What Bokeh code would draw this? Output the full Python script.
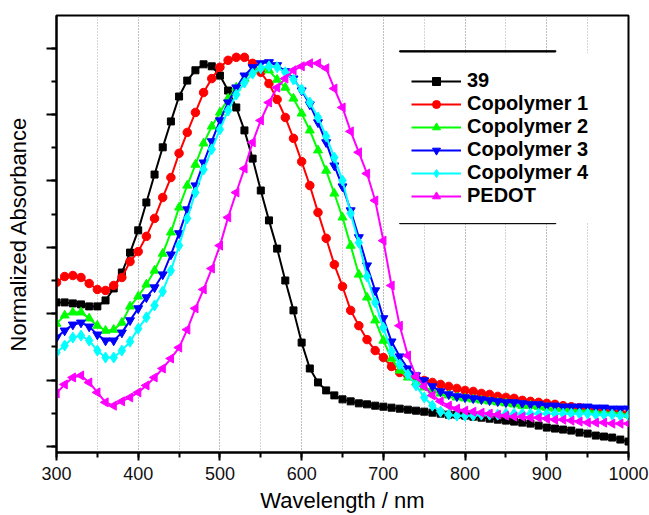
import numpy as np
from bokeh.plotting import figure
from bokeh.models import (Range1d, SingleIntervalTicker, Legend, BoxAnnotation,
                          CustomJSTickFormatter)
from bokeh.embed import file_html
from bokeh.resources import INLINE

wavelength = list(range(300, 1001, 10))

s39 = [0.434, 0.434, 0.431, 0.428, 0.422, 0.422, 0.440, 0.476, 0.524, 0.584,
       0.651, 0.735, 0.819, 0.901, 0.979, 1.054, 1.102, 1.133, 1.151, 1.145,
       1.117, 1.072, 1.021, 0.952, 0.867, 0.771, 0.681, 0.596, 0.500, 0.410,
       0.313, 0.235, 0.193, 0.169, 0.154, 0.142, 0.136, 0.130, 0.127, 0.123,
       0.120, 0.117, 0.114, 0.111, 0.108, 0.105, 0.102, 0.099, 0.096, 0.096,
       0.093, 0.090, 0.087, 0.084, 0.081, 0.078, 0.075, 0.072, 0.069, 0.063,
       0.057, 0.054, 0.051, 0.048, 0.042, 0.039, 0.033, 0.030, 0.027, 0.021,
       0.015]

cop1 = [0.494, 0.512, 0.515, 0.509, 0.491, 0.473, 0.470, 0.485, 0.509, 0.557,
        0.587, 0.633, 0.687, 0.750, 0.810, 0.883, 0.946, 1.006, 1.066, 1.108,
        1.142, 1.163, 1.172, 1.172, 1.154, 1.127, 1.093, 1.045, 0.991, 0.928,
        0.858, 0.786, 0.705, 0.627, 0.548, 0.482, 0.410, 0.364, 0.322, 0.289,
        0.268, 0.241, 0.223, 0.214, 0.205, 0.199, 0.193, 0.187, 0.181, 0.175,
        0.169, 0.166, 0.160, 0.157, 0.151, 0.148, 0.145, 0.139, 0.136, 0.133,
        0.130, 0.127, 0.123, 0.120, 0.117, 0.114, 0.111, 0.108, 0.105, 0.102,
        0.099]

cop2 = [0.370, 0.395, 0.404, 0.404, 0.386, 0.364, 0.349, 0.352, 0.373, 0.422,
        0.452, 0.488, 0.530, 0.581, 0.645, 0.720, 0.786, 0.849, 0.913, 0.964,
        1.006, 1.048, 1.081, 1.108, 1.133, 1.142, 1.133, 1.105, 1.081, 1.048,
        1.003, 0.952, 0.892, 0.831, 0.762, 0.690, 0.605, 0.518, 0.449, 0.380,
        0.319, 0.265, 0.229, 0.208, 0.193, 0.178, 0.169, 0.160, 0.154, 0.148,
        0.145, 0.142, 0.139, 0.136, 0.133, 0.130, 0.127, 0.123, 0.123, 0.120,
        0.117, 0.114, 0.114, 0.111, 0.108, 0.108, 0.105, 0.102, 0.102, 0.099,
        0.096]

cop3 = [0.328, 0.349, 0.367, 0.373, 0.361, 0.337, 0.319, 0.319, 0.343, 0.380,
        0.416, 0.449, 0.479, 0.518, 0.578, 0.642, 0.714, 0.786, 0.855, 0.919,
        0.982, 1.036, 1.081, 1.117, 1.142, 1.154, 1.157, 1.148, 1.130, 1.108,
        1.072, 1.030, 0.976, 0.916, 0.846, 0.783, 0.711, 0.630, 0.545, 0.470,
        0.386, 0.316, 0.271, 0.235, 0.214, 0.199, 0.181, 0.166, 0.157, 0.151,
        0.148, 0.145, 0.142, 0.139, 0.136, 0.133, 0.133, 0.130, 0.127, 0.127,
        0.123, 0.123, 0.120, 0.120, 0.120, 0.120, 0.117, 0.117, 0.114, 0.114,
        0.114]

cop4 = [0.283, 0.304, 0.328, 0.334, 0.319, 0.289, 0.268, 0.268, 0.289, 0.316,
        0.355, 0.389, 0.425, 0.467, 0.530, 0.605, 0.687, 0.765, 0.834, 0.895,
        0.955, 1.012, 1.060, 1.096, 1.123, 1.139, 1.145, 1.142, 1.127, 1.105,
        1.075, 1.036, 0.991, 0.934, 0.870, 0.801, 0.702, 0.614, 0.512, 0.434,
        0.358, 0.286, 0.247, 0.217, 0.184, 0.148, 0.123, 0.105, 0.096, 0.093,
        0.093, 0.093, 0.096, 0.096, 0.096, 0.099, 0.099, 0.099, 0.099, 0.099,
        0.099, 0.099, 0.099, 0.099, 0.099, 0.099, 0.096, 0.096, 0.096, 0.093,
        0.093]

pedot = [0.160, 0.187, 0.208, 0.214, 0.193, 0.163, 0.133, 0.123, 0.136, 0.148,
         0.163, 0.184, 0.208, 0.235, 0.265, 0.298, 0.352, 0.416, 0.473, 0.536,
         0.605, 0.690, 0.765, 0.837, 0.916, 0.982, 1.036, 1.081, 1.108, 1.133,
         1.145, 1.154, 1.154, 1.139, 1.078, 1.021, 0.949, 0.886, 0.822, 0.741,
         0.620, 0.485, 0.364, 0.274, 0.211, 0.181, 0.154, 0.136, 0.123, 0.114,
         0.108, 0.105, 0.102, 0.099, 0.096, 0.093, 0.090, 0.090, 0.087, 0.087,
         0.084, 0.081, 0.081, 0.078, 0.075, 0.072, 0.072, 0.072, 0.069, 0.069,
         0.069]

series_names = ["39", "Copolymer 1", "Copolymer 2", "Copolymer 3", "Copolymer 4", "PEDOT"]
series_values = [s39, cop1, cop2, cop3, cop4, pedot]
colors = ["#000000", "#FF0000", "#00FF00", "#0000FF", "#00FFFF", "#FF00FF"]
markers = ["square", "circle", "triangle", "inverted_triangle", "diamond", "triangle"]
marker_sizes = [7, 8.5, 9, 9, 11, 9]
marker_angles = [0, 0, 0, 0, 0, np.pi / 2]

FONT = "Liberation Sans"

p = figure(width=649, height=515, output_backend="svg", toolbar_location=None,
           x_range=Range1d(300, 1000), y_range=Range1d(-0.018, 1.298),
           min_border_left=56, min_border_right=21, min_border_top=15,
           min_border_bottom=63, background_fill_color="white",
           border_fill_color="white")

p.outline_line_color = "black"
p.outline_line_width = 2
p.outline_line_alpha = 1

# x axis
p.xaxis.ticker = SingleIntervalTicker(interval=100, num_minor_ticks=2)
p.xaxis.axis_label = "Wavelength / nm"
p.xaxis.axis_label_text_font = FONT
p.xaxis.axis_label_text_font_size = "22px"
p.xaxis.axis_label_text_font_style = "normal"
p.xaxis.axis_label_text_color = "black"
p.xaxis.axis_label_standoff = 5
p.xaxis.major_label_text_font = FONT
p.xaxis.major_label_text_font_size = "18px"
p.xaxis.major_label_text_color = "#111111"
p.xaxis.major_label_standoff = 6
p.xaxis.axis_line_width = 2
p.xaxis.major_tick_line_width = 2
p.xaxis.minor_tick_line_width = 2
p.xaxis.major_tick_out = 8
p.xaxis.major_tick_in = 0
p.xaxis.minor_tick_out = 5
p.xaxis.minor_tick_in = 0

# y axis (ticks without labels)
p.yaxis.ticker = SingleIntervalTicker(interval=0.2, num_minor_ticks=2)
p.yaxis.formatter = CustomJSTickFormatter(code="return ''")
p.yaxis.axis_label = "Normalized Absorbance"
p.yaxis.axis_label_text_font = FONT
p.yaxis.axis_label_text_font_size = "22px"
p.yaxis.axis_label_text_font_style = "normal"
p.yaxis.axis_label_text_color = "black"
p.yaxis.axis_label_standoff = 16
p.yaxis.major_label_standoff = 0
p.yaxis.axis_line_width = 2
p.yaxis.major_tick_line_width = 2
p.yaxis.minor_tick_line_width = 2
p.yaxis.major_tick_out = 10
p.yaxis.major_tick_in = 0
p.yaxis.minor_tick_out = 5
p.yaxis.minor_tick_in = 0

# grid
p.ygrid.grid_line_color = None
p.xgrid.grid_line_color = "#a8a8a8"
p.xgrid.grid_line_dash = "1 2"
p.xgrid.grid_line_width = 1
p.xgrid.minor_grid_line_color = "#a8a8a8"
p.xgrid.minor_grid_line_dash = "1 2"
p.xgrid.minor_grid_line_width = 1

items = []
for name, vals, c, m, s, a in zip(series_names, series_values, colors, markers,
                                  marker_sizes, marker_angles):
    l = p.line(wavelength, vals, line_color=c, line_width=2)
    sc = p.scatter(wavelength, vals, marker=m, size=s, angle=a,
                   fill_color=c, line_color=c)
    items.append((name, [l, sc]))

legend = Legend(items=items, location=(339, 229), level="annotation")
legend.label_text_font = FONT
legend.label_text_font_size = "20px"
legend.label_text_font_style = "bold"
legend.label_text_color = "black"
legend.glyph_width = 50
legend.glyph_height = 20
legend.label_height = 20
legend.label_standoff = 6
legend.spacing = 0
legend.padding = 16
legend.margin = 0
legend.border_line_alpha = 0
legend.background_fill_color = "white"
legend.background_fill_alpha = 1
p.add_layout(legend, "center")

# legend frame rules (top and bottom)
RULE_LEFT, RULE_RIGHT = 720, 911
for yv in (1.190, 0.673):
    p.add_layout(BoxAnnotation(left=RULE_LEFT, right=RULE_RIGHT, bottom=yv - 0.002,
                               top=yv + 0.002, fill_color="black", fill_alpha=1,
                               line_color="black", line_width=1, line_alpha=1,
                               level="overlay"))

open("out.html", "w").write(file_html(p, INLINE))
